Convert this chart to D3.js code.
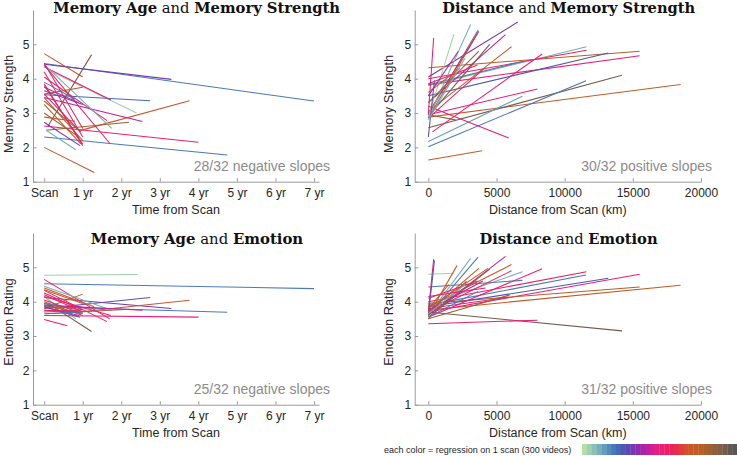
<!DOCTYPE html>
<html><head><meta charset="utf-8">
<script src="https://cdn.jsdelivr.net/npm/d3@7"></script>
<style>body{margin:0;background:#fff} svg{display:block}</style>
</head><body><svg id="c" width="737" height="456"></svg>
<script>
// colour (scan) ids along the 32-step colour bar
const G = 1, T = 3, B = 6, D = 8, P = 10, M = 13, K = 16, R = 18, O = 22, N = 26, Y = 29;

// each entry: [x start, y start, x end, y end, scan colour id]
const ageStrength = [
  [0,4.44,7.0,3.35,B],[0,4.42,3.3,3.98,P],[0,4.73,1.0,4.05,O],[0.1,4.25,2.4,3.0,G],
  [0,3.53,2.75,3.36,7],[0.9,2.48,3.77,3.36,O],[0,2.62,4.0,2.15,K],[0,2.3,4.75,1.78,B],
  [0,2.0,1.3,1.27,O],[0.1,2.62,1.23,4.7,Y],[0.05,2.5,2.2,2.73,N],[0,3.45,2.55,2.75,M],
  [0,4.4,1.7,2.12,K],[0,4.05,1.63,2.78,R],[0,4.35,1.73,3.38,K],[0,4.42,1.75,2.55,T],
  [0,2.73,0.93,2.05,P],[0.05,2.5,0.82,1.93,T],[0,3.45,1.0,2.2,N],[0,3.25,0.95,2.1,O],
  [0,3.0,0.9,2.3,N],[0,2.88,0.8,2.76,O],[0,3.55,1.0,3.75,O],[0,3.65,1.0,3.25,D],
  [0,3.85,1.0,2.05,K],[0,3.55,0.9,2.5,K],[0,4.45,1.0,2.55,R],[0,3.75,0.9,3.3,M],
  [0,3.9,0.8,3.4,B],[0,4.2,1.0,2.3,K],[0,3.35,0.95,2.45,N],[0,3.8,1.0,2.1,R]
];
const distStrength = [
  [0,2.88,18500,3.83,23],[0,2.57,14200,4.1,Y],[0,2.02,11570,3.94,B],[0,2.17,6900,3.49,4],
  [0,2.95,8000,3.7,K],[0,3.2,5900,2.27,K],[0,2.95,2000,2.8,N],[0,1.63,3950,1.9,O],
  [0,4.32,15500,4.8,24],[0,3.82,15500,4.67,K],[0,3.5,13200,4.75,D],[0,3.8,11600,4.93,T],
  [0,4.0,11600,4.83,R],[300,2.45,8350,4.72,K],[0,3.82,6900,4.5,B],[0,3.05,6100,4.93,O],
  [0,4.05,6560,5.65,P],[0,3.3,5660,5.28,M],[0,2.9,4500,5.0,Y],[0,2.85,3700,5.38,O],
  [0,2.95,3650,5.42,B],[0,3.0,3650,5.35,R],[0,2.85,3100,5.58,T],[0,2.9,1880,5.3,G],
  [0,2.95,390,5.19,K],[0,2.3,450,3.95,D],[0,3.85,3600,4.4,K],[0,3.6,2300,4.3,O],
  [0,2.85,4100,4.3,R],[0,3.3,3700,4.8,N],[0,2.8,2700,4.6,T],[0,3.5,2200,4.8,M]
];
const ageEmotion = [
  [0,4.77,2.42,4.79,G],[0,4.52,7.0,4.38,B],[0,3.85,4.75,3.69,B],[0,3.8,2.75,4.12,D],
  [0,4.12,3.3,3.8,P],[0.9,3.7,3.77,4.04,O],[0,3.6,4.0,3.55,K],[0,4.65,1.7,3.5,K],
  [0,4.33,1.63,3.42,R],[0,4.15,1.73,3.6,K],[0,4.45,1.75,3.75,T],[0.1,3.95,1.23,3.13,Y],
  [0,3.48,0.6,3.3,K],[0,3.8,1.0,4.22,O],[0,3.9,2.55,3.75,M],[0.05,3.65,2.2,3.78,N],
  [0.05,4.1,0.82,3.5,T],[0,3.85,0.93,3.55,P],[0,4.4,1.3,3.85,O],[0,3.75,0.8,3.7,O],
  [0,4.35,1.0,3.95,O],[0,4.0,1.0,3.6,N],[0,3.95,0.95,3.75,O],[0,3.7,0.9,3.75,N],
  [0,3.85,0.9,3.6,M],[0,3.95,0.8,3.8,B],[0,4.2,1.0,3.7,K],[0,3.9,0.95,3.65,N],
  [0,4.25,1.0,3.75,R],[0,3.75,0.9,3.72,K],[0,4.05,1.0,3.65,R],[0,3.65,1.0,3.7,B]
];
const distEmotion = [
  [0,3.76,18500,4.48,23],[0,3.7,14200,3.15,Y],[0,3.9,11570,4.78,B],[0,4.0,11600,4.87,R],
  [0,3.7,15500,4.8,K],[0,3.95,15500,4.43,24],[0,3.85,13200,4.68,D],[0,3.9,6900,4.87,T],
  [0,4.43,6900,4.62,B],[300,3.6,8350,4.96,K],[0,3.36,8000,3.46,K],[0,3.8,5900,4.13,K],
  [0,3.8,4370,4.97,O],[0,4.8,1880,4.83,G],[0,3.6,3100,5.26,T],[0,3.6,3650,5.3,B],
  [0,3.6,5660,5.32,M],[0,3.85,6100,5.08,O],[0,3.7,6100,4.9,R],[0,3.7,390,5.24,K],
  [0,3.6,450,5.2,D],[0,3.55,4500,4.95,Y],[0,3.6,2100,5.05,O],[0,3.7,3700,4.97,O],
  [0,3.5,2800,4.6,N],[0,4.1,3600,4.6,R],[0,3.75,4000,4.6,M],[0,3.65,2700,4.5,T],
  [0,4.15,4200,4.4,K],[0,3.55,3650,4.3,B],[0,3.5,6000,4.2,N],[0,3.8,1500,4.5,O]
];

const ageTicks = [0,1,2,3,4,5,6,7];
const ageTickLabels = ["Scan","1 yr","2 yr","3 yr","4 yr","5 yr","6 yr","7 yr"];
const distTicks = [0,5000,10000,15000,20000];
const yTicks = [1,2,3,4,5];
const notes = ["28/32 negative slopes","30/32 positive slopes","25/32 negative slopes","31/32 positive slopes"];
const legendText = "each color = regression on 1 scan (300 videos)";
const colorAnchors = ['#b5dfa5','#7fb9b9','#4b86c0','#3e5cb0','#7b30b2','#c01ea4','#f0207a','#f0185a','#d85030','#c06020','#a06032','#7a5e4a','#585858'];
const scanColors = d3.quantize(d3.interpolateRgbBasis(colorAnchors), 32);

const svg = d3.select('#c');
const sans = "'Liberation Sans', Arial, Helvetica, sans-serif";
const axisGray = '#9a9a9a', textDark = '#262626';

const xAge = d3.scaleLinear().domain([-0.29, 7.13]).range([33, 319]);
const xDist = d3.scaleLinear().domain([-1000, 20000]).range([414.7, 701]);
const yTop = d3.scaleLinear().domain([1, 6]).range([181.7, 10]);
const yBot = d3.scaleLinear().domain([1, 6]).range([404.7, 233]);

const panels = [
  {data: ageStrength, x: xAge, y: yTop, kind: 'age', title: [['Memory Age',1],[' and ',0],['Memory Strength',1]], tw: 287, tc: 196.7, ty: 12.5, yl: 'Memory Strength', ylx: 8.5, yly: 104, note: notes[0], nx: 330},
  {data: distStrength, x: xDist, y: yTop, kind: 'dist', title: [['Distance',1],[' and ',0],['Memory Strength',1]], tw: 253, tc: 568.7, ty: 12.5, yl: 'Memory Strength', ylx: 388, yly: 104, note: notes[1], nx: 712},
  {data: ageEmotion, x: xAge, y: yBot, kind: 'age', title: [['Memory Age',1],[' and ',0],['Emotion',1]], tw: 212.6, tc: 197, ty: 244, yl: 'Emotion Rating', ylx: 8.5, yly: 322, note: notes[2], nx: 330},
  {data: distEmotion, x: xDist, y: yBot, kind: 'dist', title: [['Distance',1],[' and ',0],['Emotion',1]], tw: 178.3, tc: 568.5, ty: 244, yl: 'Emotion Rating', ylx: 388, yly: 322, note: notes[3], nx: 712}
];

panels.forEach(p => {
  const g = svg.append('g');
  const x0 = p.x.range()[0], y0 = p.y.range()[0];
  // axes
  const xa = d3.axisBottom(p.x).tickSizeInner(-3.5).tickSizeOuter(0).tickPadding(7);
  if (p.kind === 'age') xa.tickValues(ageTicks).tickFormat((d,i) => ageTickLabels[i]);
  else xa.tickValues(distTicks).tickFormat(d3.format('d'));
  const gx = g.append('g').attr('transform', `translate(0,${y0})`).call(xa);
  const ya = d3.axisLeft(p.y).tickValues(yTicks).tickSizeInner(-3.5).tickSizeOuter(0).tickPadding(3.5).tickFormat(d3.format('d'));
  const gy = g.append('g').attr('transform', `translate(${x0},0)`).call(ya);
  [gx, gy].forEach(a => {
    a.select('.domain').attr('stroke', axisGray);
    a.selectAll('.tick line').attr('stroke', axisGray);
    a.selectAll('.tick text').attr('fill', textDark).style('font-family', sans).style('font-size', '12px');
  });
  // lines
  g.append('g').selectAll('line').data(p.data).join('line')
    .attr('x1', d => p.x(d[0])).attr('y1', d => p.y(d[1]))
    .attr('x2', d => p.x(d[2])).attr('y2', d => p.y(d[3]))
    .attr('stroke', d => scanColors[d[4]]).attr('stroke-width', 1.05);
  // axis titles
  g.append('text').attr('x', (p.x.range()[0] + p.x.range()[1]) / 2).attr('y', y0 + 32)
    .attr('text-anchor', 'middle').attr('fill', textDark).style('font-family', sans).style('font-size', '12.5px')
    .text(p.kind === 'age' ? 'Time from Scan' : 'Distance from Scan (km)');
  g.append('text').attr('transform', `translate(${p.ylx + 4.5},${p.yly}) rotate(-90)`)
    .attr('text-anchor', 'middle').attr('fill', textDark).style('font-family', sans).style('font-size', '12.8px')
    .text(p.yl);
  // note
  g.append('text').attr('x', p.nx).attr('y', y0 - 10.5).attr('text-anchor', 'end')
    .attr('fill', '#8c8c8c').style('font-family', sans).style('font-size', '14px').text(p.note);
  // title, fitted to the measured width
  const t = g.append('text').attr('x', p.tc).attr('y', p.ty).attr('text-anchor', 'middle')
    .attr('fill', '#111').style('font-family', "'DejaVu Serif', 'Liberation Serif', serif").style('font-size', '14px');
  p.title.forEach(([s, b]) => t.append('tspan').attr('font-weight', b ? 'bold' : 'normal').text(s));
  const w = t.node().getComputedTextLength();
  t.style('font-size', (14 * p.tw / w).toFixed(2) + 'px');
});

// legend
svg.append('text').attr('x', 384).attr('y', 452.5).attr('fill', textDark)
  .style('font-family', sans).style('font-size', '9px').text(legendText);
const bx = d3.scaleLinear().domain([0, 32]).range([582, 737]);
svg.append('g').selectAll('rect').data(scanColors).join('rect')
  .attr('x', (d, i) => bx(i)).attr('y', 444).attr('width', (d, i) => bx(i + 1) - bx(i) + 0.3).attr('height', 11)
  .attr('fill', d => d);
</script></body></html>
